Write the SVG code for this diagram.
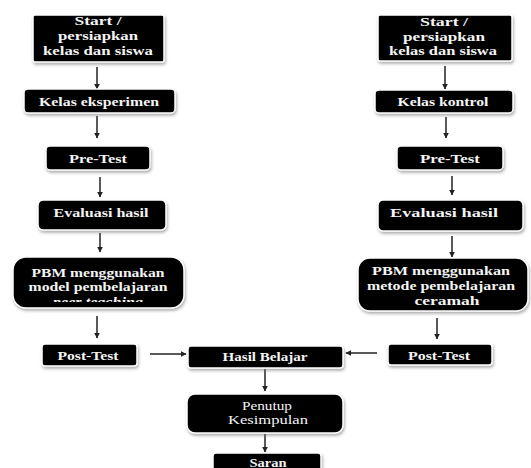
<svg xmlns="http://www.w3.org/2000/svg" width="531" height="468" viewBox="0 0 531 468">
<style>
.box{fill:#000;stroke:#fff;stroke-width:1.5;filter:url(#sh)}
.t{font-family:"Liberation Serif","Times New Roman",serif;font-size:13.5px;font-weight:bold;fill:#f4f4f4;text-anchor:middle}
.r{font-weight:normal;font-size:13px}
.i{font-style:italic;font-size:13px}
.c{stroke:#222;stroke-width:1.5;fill:none;marker-end:url(#ah)}
</style>
<defs>
<filter id="sh" x="-10%" y="-20%" width="120%" height="150%">
<feDropShadow dx="1" dy="2" stdDeviation="1.6" flood-color="#777" flood-opacity="0.6"/>
</filter>
<marker id="ah" viewBox="0 0 10 10" refX="9" refY="5" markerWidth="6" markerHeight="6" orient="auto" markerUnits="userSpaceOnUse">
<path d="M0,0 L10,5 L0,10 z" fill="#222"/>
</marker>
<clipPath id="clipPeer"><rect x="13" y="290" width="171" height="12"/></clipPath>
</defs>
<rect width="531" height="468" fill="#fff"/>

<g id="connectors">
<line class="c" x1="97" y1="67" x2="97" y2="89"/>
<line class="c" x1="97" y1="116" x2="97" y2="138"/>
<line class="c" x1="100" y1="177" x2="100" y2="197"/>
<line class="c" x1="100" y1="233" x2="100" y2="252"/>
<line class="c" x1="97" y1="316" x2="97" y2="338"/>
<line class="c" x1="445" y1="66" x2="445" y2="89"/>
<line class="c" x1="446" y1="117" x2="446" y2="138"/>
<line class="c" x1="452" y1="176" x2="452" y2="195"/>
<line class="c" x1="452" y1="236" x2="452" y2="257"/>
<line class="c" x1="437" y1="318" x2="437" y2="339"/>
<line class="c" x1="150" y1="354" x2="186" y2="354"/>
<line class="c" x1="377" y1="353" x2="346" y2="353"/>
<line class="c" x1="265" y1="369" x2="265" y2="391"/>
<line class="c" x1="265" y1="434" x2="265" y2="452"/>
</g>

<g id="start-left">
<rect class="box" x="33" y="15" width="131" height="47" rx="2"/>
<text class="t" x="98" y="25" textLength="47" lengthAdjust="spacingAndGlyphs">Start /</text>
<text class="t" x="98" y="40" textLength="80" lengthAdjust="spacingAndGlyphs">persiapkan</text>
<text class="t" x="98" y="55" textLength="110" lengthAdjust="spacingAndGlyphs">kelas dan siswa</text>
</g>
<g id="kelas-eksperimen">
<rect class="box" x="24" y="89" width="151" height="24" rx="4"/>
<text class="t" x="99" y="106" textLength="120" lengthAdjust="spacingAndGlyphs">Kelas eksperimen</text>
</g>
<g id="pretest-left">
<rect class="box" x="46" y="146" width="104" height="24" rx="4"/>
<text class="t" x="98" y="163" textLength="58" lengthAdjust="spacingAndGlyphs">Pre-Test</text>
</g>
<g id="evaluasi-left">
<rect class="box" x="38" y="200" width="128" height="30" rx="5"/>
<text class="t" x="101" y="217" textLength="95" lengthAdjust="spacingAndGlyphs">Evaluasi hasil</text>
</g>
<g id="pbm-left">
<rect class="box" x="13" y="257" width="171" height="51" rx="13"/>
<text class="t" x="98" y="277" textLength="133" lengthAdjust="spacingAndGlyphs">PBM menggunakan</text>
<text class="t" x="98" y="291" textLength="139" lengthAdjust="spacingAndGlyphs">model pembelajaran</text>
<text class="t i" x="98" y="306" textLength="90" lengthAdjust="spacingAndGlyphs" clip-path="url(#clipPeer)">peer teaching</text>
</g>
<g id="posttest-left">
<rect class="box" x="42" y="344" width="95" height="22" rx="3"/>
<text class="t" x="88" y="360" textLength="61" lengthAdjust="spacingAndGlyphs">Post-Test</text>
</g>

<g id="start-right">
<rect class="box" x="378" y="15" width="134" height="46" rx="2"/>
<text class="t" x="444" y="26" textLength="48" lengthAdjust="spacingAndGlyphs">Start /</text>
<text class="t" x="444" y="41" textLength="82" lengthAdjust="spacingAndGlyphs">persiapkan</text>
<text class="t" x="443" y="55" textLength="108" lengthAdjust="spacingAndGlyphs">kelas dan siswa</text>
</g>
<g id="kelas-kontrol">
<rect class="box" x="375" y="90" width="138" height="23" rx="4"/>
<text class="t" x="443" y="106" textLength="91" lengthAdjust="spacingAndGlyphs">Kelas kontrol</text>
</g>
<g id="pretest-right">
<rect class="box" x="397" y="146" width="106" height="24" rx="4"/>
<text class="t" x="450" y="163" textLength="60" lengthAdjust="spacingAndGlyphs">Pre-Test</text>
</g>
<g id="evaluasi-right">
<rect class="box" x="378" y="200" width="145" height="31" rx="5"/>
<text class="t" x="444" y="217" textLength="108" lengthAdjust="spacingAndGlyphs">Evaluasi hasil</text>
</g>
<g id="pbm-right">
<rect class="box" x="358" y="258" width="170" height="53" rx="12"/>
<text class="t" x="441" y="275" textLength="138" lengthAdjust="spacingAndGlyphs">PBM menggunakan</text>
<text class="t" x="441" y="290" textLength="148" lengthAdjust="spacingAndGlyphs">metode pembelajaran</text>
<text class="t" x="447" y="305" textLength="65" lengthAdjust="spacingAndGlyphs">ceramah</text>
</g>
<g id="posttest-right">
<rect class="box" x="388" y="344" width="104" height="21" rx="3"/>
<text class="t" x="439" y="360" textLength="62" lengthAdjust="spacingAndGlyphs">Post-Test</text>
</g>

<g id="hasil-belajar">
<rect class="box" x="188" y="346" width="155" height="22" rx="3"/>
<text class="t" x="265" y="361" textLength="85" lengthAdjust="spacingAndGlyphs">Hasil Belajar</text>
</g>
<g id="penutup">
<rect class="box" x="187" y="394" width="156" height="39" rx="8"/>
<text class="t r" x="267" y="410" textLength="50" lengthAdjust="spacingAndGlyphs">Penutup</text>
<text class="t r" x="268" y="424" textLength="80" lengthAdjust="spacingAndGlyphs">Kesimpulan</text>
</g>
<g id="saran">
<rect class="box" x="213" y="453" width="108" height="22" rx="3"/>
<text class="t" x="268" y="467" textLength="37" lengthAdjust="spacingAndGlyphs">Saran</text>
</g>
</svg>
